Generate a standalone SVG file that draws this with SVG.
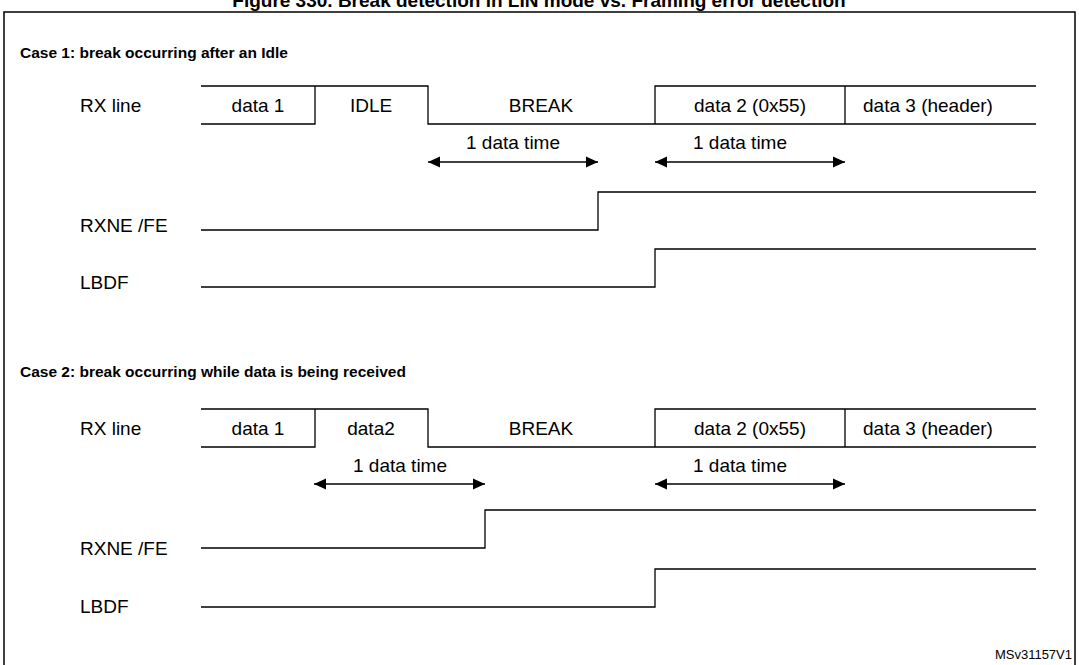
<svg xmlns="http://www.w3.org/2000/svg" width="1079" height="665" viewBox="0 0 1079 665">
<defs>
<marker id="ah" viewBox="0 0 10 10" refX="10" refY="5" markerWidth="12" markerHeight="12" markerUnits="userSpaceOnUse" orient="auto-start-reverse"><path d="M0,0.5 L10,5 L0,9.5 z" fill="#000"/></marker>
<style>
text{font-family:"Liberation Sans",Arial,sans-serif;font-size:19px;fill:#000}
.h{font-weight:bold;font-size:15.5px}
.m{text-anchor:middle}
.w{fill:none;stroke:#000;stroke-width:1.3}
.a{fill:none;stroke:#000;stroke-width:1.3;marker-start:url(#ah);marker-end:url(#ah)}
</style>
</defs>
<rect width="1079" height="665" fill="#fff"/>
<text x="539" y="7" class="h m" style="font-size:19px">Figure 330. Break detection in LIN mode vs. Framing error detection</text>
<rect x="4" y="12" width="1071" height="670" fill="none" stroke="#000" stroke-width="1.5"/>
<g id="case1">
<text x="20" y="58" class="h">Case 1: break occurring after an Idle</text>
<text x="80" y="112">RX line</text>
<text x="80" y="232">RXNE /FE</text>
<text x="80" y="289">LBDF</text>
</g>
<g id="rx1">
<path class="w" d="M201,86 H315 V124 H201 M315,86 H428 V124 H655 V86 H1036 M655,124 H1036 M845,86 V124"/>
<text x="258" y="112" class="m">data 1</text>
<text x="371" y="112" class="m">IDLE</text>
<text x="541" y="112" class="m">BREAK</text>
<text x="750" y="112" class="m">data 2 (0x55)</text>
<text x="928" y="112" class="m">data 3 (header)</text>
<text x="513" y="149" class="m">1 data time</text>
<text x="740" y="149" class="m">1 data time</text>
</g>
<g id="sig1">
<path class="w" d="M201,230 H598 V192 H1036"/>
<path class="w" d="M201,287 H655 V249 H1036"/>
</g>
<g id="case2">
<text x="20" y="377" class="h">Case 2: break occurring while data is being received</text>
<text x="80" y="435">RX line</text>
<text x="80" y="555">RXNE /FE</text>
<text x="80" y="613">LBDF</text>
</g>
<g id="rx2">
<path class="w" d="M201,409 H315 V447 H201 M315,409 H428 V447 H655 V409 H1036 M655,447 H1036 M845,409 V447"/>
<text x="258" y="435" class="m">data 1</text>
<text x="371" y="435" class="m">data2</text>
<text x="541" y="435" class="m">BREAK</text>
<text x="750" y="435" class="m">data 2 (0x55)</text>
<text x="928" y="435" class="m">data 3 (header)</text>
<text x="400" y="472" class="m">1 data time</text>
<text x="740" y="472" class="m">1 data time</text>
</g>
<g id="sig2">
<path class="w" d="M201,548 H485 V510 H1036"/>
<path class="w" d="M201,607 H655 V569 H1036"/>
</g>
<g id="connectors">
<line class="a" x1="428" y1="162" x2="598" y2="162"/>
<line class="a" x1="655" y1="162" x2="845" y2="162"/>
<line class="a" x1="314" y1="484" x2="485" y2="484"/>
<line class="a" x1="655" y1="484" x2="845" y2="484"/>
</g>
<text x="1072" y="659" style="font-size:13px;text-anchor:end">MSv31157V1</text>
</svg>
